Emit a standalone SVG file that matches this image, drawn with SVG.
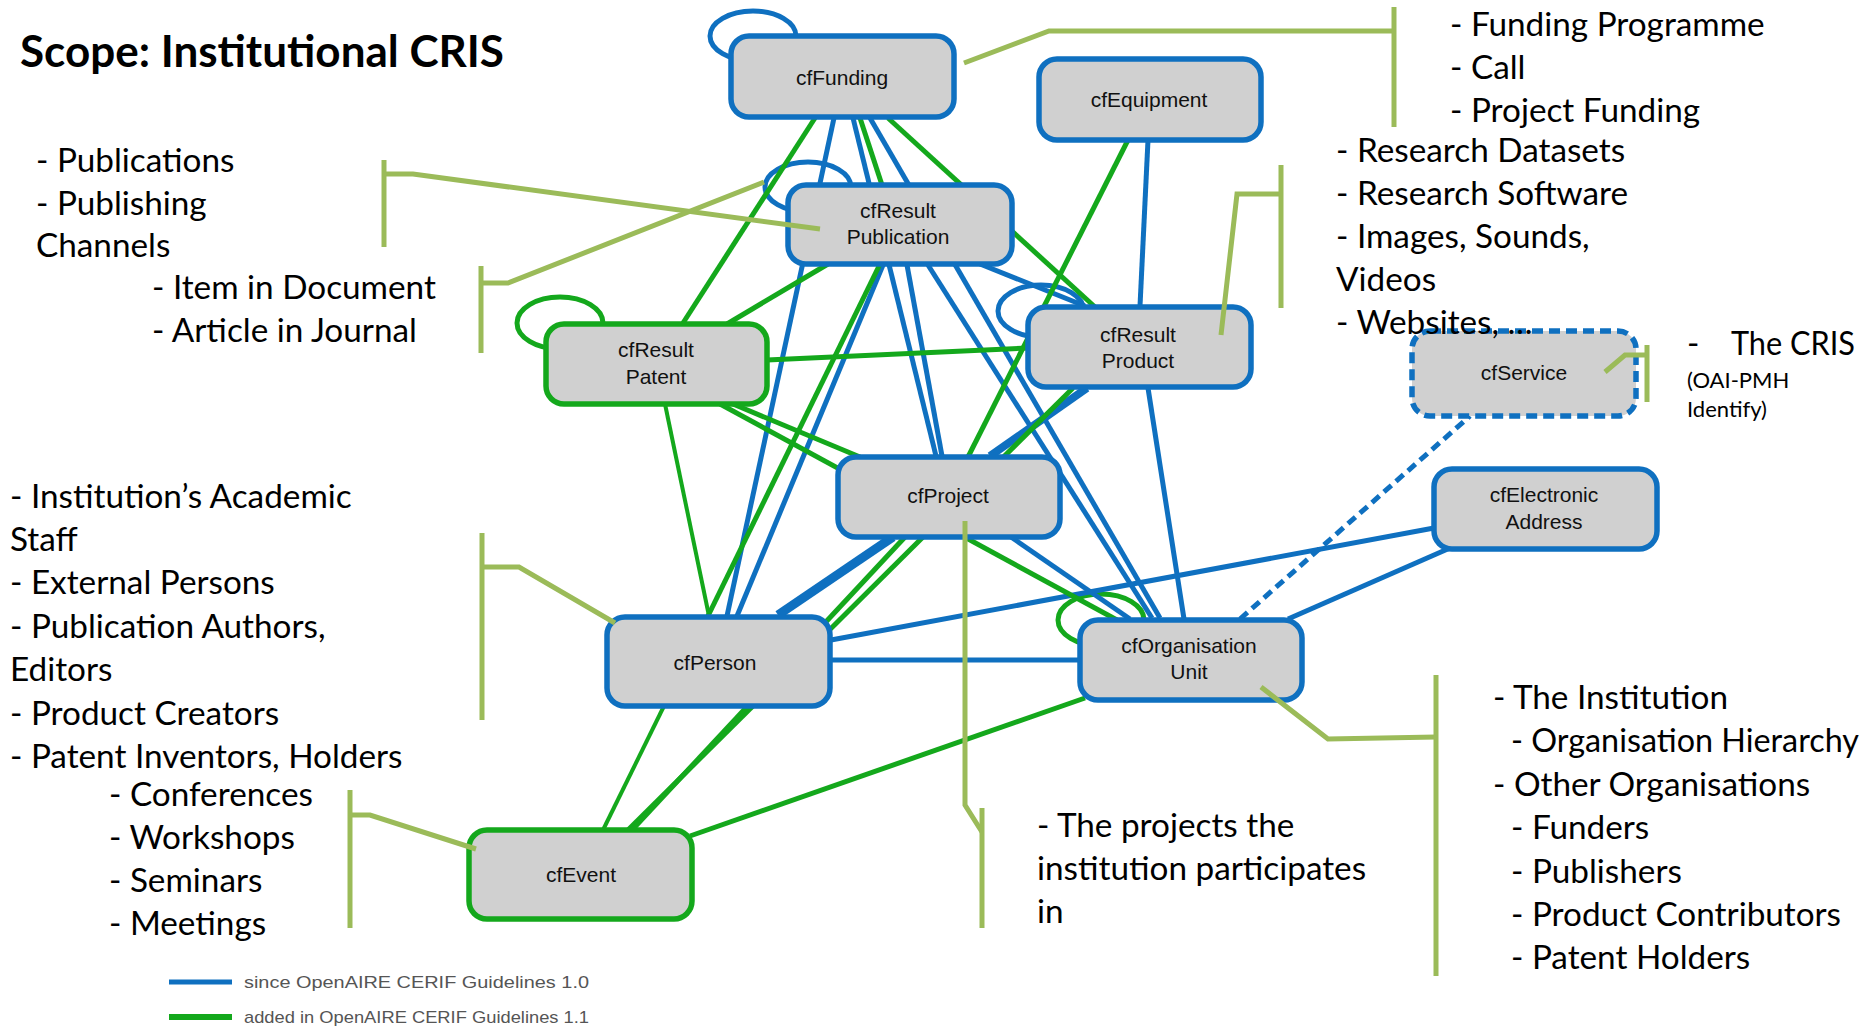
<svg xmlns="http://www.w3.org/2000/svg" width="1866" height="1029" viewBox="0 0 1866 1029">
<style>
.bg{fill:#ffffff}
.nb{fill:#d0d0d0;stroke:#0f70c0;stroke-width:5.5}
.ng{fill:#d0d0d0;stroke:#14a81c;stroke-width:5.5}
.nd{fill:#d0d0d0;stroke:#0f70c0;stroke-width:5.5;stroke-dasharray:11 6}
.lb{stroke:#0f70c0;stroke-width:5;fill:none;stroke-linecap:butt}
.lg{stroke:#14a81c;stroke-width:5;fill:none}
.br{stroke:#9bbb59;stroke-width:5;fill:none}
.n{font-family:"Liberation Sans",Arial,sans-serif;font-size:21px;fill:#111;text-anchor:middle}
.t{font-family:Lato,"Open Sans",sans-serif;font-size:33.3px;fill:#000}
.s{font-family:Lato,"Open Sans",sans-serif;font-size:22px;fill:#000}
.title{font-family:Lato,"Open Sans",sans-serif;font-size:44px;font-weight:bold;fill:#000}
.lt{font-family:"Liberation Sans",Arial,sans-serif;font-size:17px;fill:#555}
</style>
<rect class="bg" x="0" y="0" width="1866" height="1029"/>
<text class="title" x="20" y="67">Scope: Institutional CRIS</text>

<g id="loops">
<ellipse class="lb" cx="753" cy="36" rx="43" ry="25"/>
<ellipse class="lb" cx="808" cy="187" rx="43" ry="25"/>
<ellipse class="lb" cx="1041" cy="311" rx="43" ry="26"/>
<ellipse class="lg" cx="560" cy="323" rx="43" ry="26"/>
<ellipse class="lg" cx="1101" cy="620" rx="43" ry="26"/>
</g>

<g id="connectors">
<line class="lb" x1="834" y1="118" x2="727" y2="616"/>
<line class="lb" x1="853" y1="118" x2="936" y2="456"/>
<line class="lb" x1="870" y1="118" x2="1160" y2="618"/>
<line class="lb" x1="883" y1="265" x2="737" y2="616"/>
<line class="lb" x1="907" y1="265" x2="942" y2="456"/>
<line class="lb" x1="928" y1="265" x2="1152" y2="618"/>
<line class="lb" x1="980" y1="264" x2="1085" y2="306"/>
<line class="lb" x1="1148" y1="140" x2="1140" y2="306"/>
<line class="lb" x1="1148" y1="388" x2="1184" y2="619"/>
<line class="lb" x1="1087" y1="388" x2="990" y2="456" style="stroke-width:8"/>
<line class="lb" x1="893" y1="537" x2="778" y2="615" style="stroke-width:9"/>
<line class="lb" x1="1011" y1="537" x2="1130" y2="619"/>
<line class="lb" x1="831" y1="640" x2="1434" y2="528"/>
<line class="lb" x1="831" y1="660" x2="1080" y2="660"/>
<line class="lb" x1="1288" y1="619" x2="1450" y2="548"/>
<line class="lb" x1="1240" y1="619" x2="1470" y2="416" style="stroke-dasharray:10 6"/>
<line class="lg" x1="815" y1="118" x2="683" y2="323"/>
<line class="lg" x1="860" y1="118" x2="882" y2="185"/>
<line class="lg" x1="888" y1="118" x2="1095" y2="307"/>
<line class="lg" x1="1128" y1="140" x2="968" y2="457"/>
<line class="lg" x1="828" y1="264" x2="727" y2="324"/>
<line class="lg" x1="880" y1="264" x2="708" y2="616"/>
<line class="lg" x1="767" y1="360" x2="1028" y2="348"/>
<line class="lg" x1="733" y1="404" x2="860" y2="457"/>
<line class="lg" x1="720" y1="404" x2="1117" y2="620"/>
<line class="lg" x1="665" y1="404" x2="709" y2="616" style="stroke-width:4"/>
<line class="lg" x1="1073" y1="388" x2="628" y2="830"/>
<line class="lg" x1="905" y1="537" x2="632" y2="830"/>
<line class="lg" x1="664" y1="706" x2="603" y2="830" style="stroke-width:4"/>
<line class="lg" x1="1085" y1="698" x2="690" y2="836"/>
</g>

<g id="cfFunding"><rect class="nb" x="731" y="36" width="223" height="81" rx="18"/><text class="n" x="842" y="85">cfFunding</text></g>
<g id="cfEquipment"><rect class="nb" x="1039" y="59" width="222" height="81" rx="18"/><text class="n" x="1149" y="107">cfEquipment</text></g>
<g id="cfResultPublication"><rect class="nb" x="788" y="185" width="224" height="79" rx="18"/><text class="n" x="898" y="218">cfResult</text><text class="n" x="898" y="244">Publication</text></g>
<g id="cfResultProduct"><rect class="nb" x="1028" y="307" width="223" height="80" rx="18"/><text class="n" x="1138" y="342">cfResult</text><text class="n" x="1138" y="368">Product</text></g>
<g id="cfResultPatent"><rect class="ng" x="546" y="324" width="221" height="80" rx="18"/><text class="n" x="656" y="357">cfResult</text><text class="n" x="656" y="384">Patent</text></g>
<g id="cfProject"><rect class="nb" x="838" y="457" width="222" height="80" rx="18"/><text class="n" x="948" y="503">cfProject</text></g>
<g id="cfPerson"><rect class="nb" x="607" y="617" width="223" height="89" rx="18"/><text class="n" x="715" y="670">cfPerson</text></g>
<g id="cfOrganisationUnit"><rect class="nb" x="1080" y="620" width="222" height="80" rx="18"/><text class="n" x="1189" y="653">cfOrganisation</text><text class="n" x="1189" y="679">Unit</text></g>
<g id="cfElectronicAddress"><rect class="nb" x="1434" y="469" width="223" height="80" rx="18"/><text class="n" x="1544" y="502">cfElectronic</text><text class="n" x="1544" y="529">Address</text></g>
<g id="cfService"><rect class="nd" x="1412" y="331" width="224" height="85" rx="18"/><text class="n" x="1524" y="380">cfService</text></g>
<g id="cfEvent"><rect class="ng" x="469" y="830" width="223" height="89" rx="18"/><text class="n" x="581" y="882">cfEvent</text></g>

<g id="annotations">
<text class="t" x="1450" y="36">- Funding Programme</text>
<text class="t" x="1450" y="79">- Call</text>
<text class="t" x="1450" y="122">- Project Funding</text>
<text class="t" x="1336" y="162">- Research Datasets</text>
<text class="t" x="1336" y="205">- Research Software</text>
<text class="t" x="1336" y="248">- Images, Sounds,</text>
<text class="t" x="1336" y="291">Videos</text>
<text class="t" x="1336" y="334">- Websites, …</text>
<text class="t" x="1687" y="355">-</text>
<text class="t" x="1731" y="355" textLength="124" lengthAdjust="spacingAndGlyphs">The CRIS</text>
<text class="s" x="1687" y="388">(OAI-PMH</text>
<text class="s" x="1687" y="417">Identify)</text>
<text class="t" x="36" y="172">- Publications</text>
<text class="t" x="36" y="215">- Publishing</text>
<text class="t" x="36" y="257">Channels</text>
<text class="t" x="152" y="299">- Item in Document</text>
<text class="t" x="152" y="342">- Article in Journal</text>
<text class="t" x="10" y="508">- Institution’s Academic</text>
<text class="t" x="10" y="551">Staff</text>
<text class="t" x="10" y="594">- External Persons</text>
<text class="t" x="10" y="638">- Publication Authors,</text>
<text class="t" x="10" y="681">Editors</text>
<text class="t" x="10" y="725">- Product Creators</text>
<text class="t" x="10" y="768">- Patent Inventors, Holders</text>
<text class="t" x="109" y="806">- Conferences</text>
<text class="t" x="109" y="849">- Workshops</text>
<text class="t" x="109" y="892">- Seminars</text>
<text class="t" x="109" y="935">- Meetings</text>
<text class="t" x="1037" y="837">- The projects the</text>
<text class="t" x="1037" y="880">institution participates</text>
<text class="t" x="1037" y="923">in</text>
<text class="t" x="1493" y="709">- The Institution</text>
<text class="t" x="1511" y="752" textLength="348" lengthAdjust="spacingAndGlyphs">- Organisation Hierarchy</text>
<text class="t" x="1493" y="796">- Other Organisations</text>
<text class="t" x="1511" y="839">- Funders</text>
<text class="t" x="1511" y="883">- Publishers</text>
<text class="t" x="1511" y="926">- Product Contributors</text>
<text class="t" x="1511" y="969">- Patent Holders</text>
</g>

<g id="brackets">
<polyline class="br" points="964,63 1049,31 1394,31"/><line class="br" x1="1394" y1="7" x2="1394" y2="127"/>
<polyline class="br" points="384,174 413,174 820,229"/><line class="br" x1="384" y1="160" x2="384" y2="247"/>
<polyline class="br" points="481,283 508,283 764,182"/><line class="br" x1="481" y1="266" x2="481" y2="353"/>
<polyline class="br" points="1221,335 1237,194 1281,194"/><line class="br" x1="1281" y1="165" x2="1281" y2="308"/>
<polyline class="br" points="1605,372 1625,355 1647,355"/><line class="br" x1="1647" y1="345" x2="1647" y2="402"/>
<polyline class="br" points="482,567 519,567 615,623"/><line class="br" x1="482" y1="533" x2="482" y2="720"/>
<polyline class="br" points="350,815 370,815 476,849"/><line class="br" x1="350" y1="790" x2="350" y2="928"/>
<polyline class="br" points="965,521 965,805 982,832"/><line class="br" x1="982" y1="808" x2="982" y2="928"/>
<polyline class="br" points="1261,687 1328,739 1436,737"/><line class="br" x1="1436" y1="675" x2="1436" y2="976"/>
</g>

<g id="legend">
<line x1="169" y1="982" x2="232" y2="982" stroke="#0f70c0" stroke-width="5"/>
<text class="lt" x="244" y="988" textLength="345" lengthAdjust="spacingAndGlyphs">since OpenAIRE CERIF Guidelines 1.0</text>
<line x1="169" y1="1017" x2="232" y2="1017" stroke="#14a81c" stroke-width="6"/>
<text class="lt" x="244" y="1023" textLength="345" lengthAdjust="spacingAndGlyphs">added in OpenAIRE CERIF Guidelines 1.1</text>
</g>
</svg>
